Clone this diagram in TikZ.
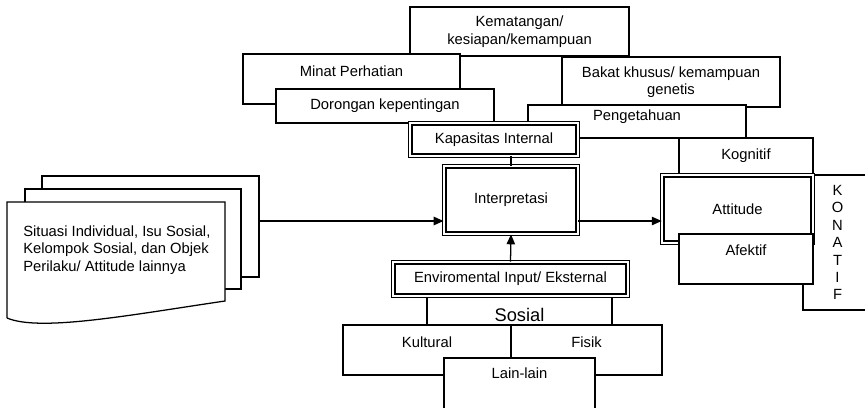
\documentclass[tikz,border=0pt]{standalone}
\usepackage{fontspec}
\setmainfont{Liberation Sans}
\usetikzlibrary{arrows.meta}

\tikzset{
  box/.style={draw, fill=white, line width=0.9pt, inner sep=1pt, align=center,
    font=\fontsize{10.5}{12.5}\selectfont},
  dbox/.style={box, double=white, double distance=1.6pt},
  lift/.style={text depth=#1},
  arr/.style={line width=0.9pt, -{Triangle[length=7pt,width=6pt]}}
}

\begin{document}
\begin{tikzpicture}[x=0.025cm, y=-0.025cm]
	\useasboundingbox (0,0) rectangle (865,407);

	% tumpukan dokumen
	\draw[line width=0.9pt, fill=white] (42,176) rectangle (259,277);
	\draw[line width=0.9pt, fill=white] (25,189) rectangle (241,289);
	\draw[line width=0.9pt, fill=white] (7,318) -- (7,202) -- (225,202) -- (225,301)
	  .. controls (130,315) and (40,332) .. (7,318);
	\node[anchor=west, align=left, inner sep=0pt, font=\fontsize{10.5}{12.4}\selectfont] (situasi) at (23,250)
	  {Situasi Individual, Isu Sosial,\\Kelompok Sosial, dan Objek\\Perilaku/ Attitude lainnya};
	\coordinate (docs) at (259,221);

	% kapasitas internal
	\node[box, minimum width=5.475cm, minimum height=1.225cm] (kematangan) at (519.5,31.5) {Kematangan/\\kesiapan/kemampuan};
	\node[box, lift=11.4pt, minimum width=5.425cm, minimum height=1.25cm] (minat) at (351.5,79) {Minat Perhatian};
	\node[box, minimum width=5.45cm, minimum height=0.85cm] (dorongan) at (385,106) {Dorongan kepentingan};
	\node[box, minimum width=5.45cm, minimum height=1.25cm] (bakat) at (671,82) {Bakat khusus/ kemampuan\\genetis};
	\node[box, lift=9.2pt, minimum width=5.45cm, minimum height=0.825cm] (pengetahuan) at (637,121.5) {Pengetahuan};
	\node[dbox, minimum width=4.19cm, minimum height=0.81cm] (kapasitas) at (494,139.5) {Kapasitas Internal};

	\node[dbox, minimum width=3.34cm, minimum height=1.69cm] (interp) at (511,200) {Interpretasi};

	% attitude
	\node[box, minimum width=3.35cm, minimum height=0.9cm] (kognitif) at (746,156) {Kognitif};
	\node[box, minimum width=1.725cm, minimum height=3.375cm, font=\fontsize{10.5}{12.4}\selectfont] (konatif) at (837.5,242.5) {K\\O\\N\\A\\T\\I\\F};
	\node[dbox, minimum width=3.76cm, minimum height=1.69cm] (attitude) at (737.5,209) {Attitude};
	\node[box, lift=12.8pt, minimum width=3.35cm, minimum height=1.25cm] (afektif) at (746,259) {Afektif};

	% input eksternal
	\node[box, minimum width=4.625cm, minimum height=0.95cm, font=\fontsize{13}{15}\selectfont] (sosial) at (519.5,315) {Sosial};
	\node[dbox, minimum width=5.86cm, minimum height=0.84cm] (env) at (510.5,279) {Enviromental Input/ Eksternal};
	\node[box, lift=11.4pt, minimum width=4.2cm, minimum height=1.25cm] (kultural) at (427,350) {Kultural};
	\node[box, lift=11.4pt, minimum width=3.775cm, minimum height=1.25cm] (fisik) at (586.5,350) {Fisik};
	\node[box, lift=22.8pt, minimum width=3.775cm, minimum height=1.55cm] (lain) at (519.5,389) {Lain-lain};

	% panah
	\draw[arr] (docs) -- (interp.west |- docs);
	\draw[arr] (interp.east |- docs) -- (attitude.west |- docs);
	\draw[arr] (env.north) -- (interp.south);
	\draw[line width=0.9pt] (interp.north) -- (interp.north |- kapasitas.south);
\end{tikzpicture}
\end{document}
